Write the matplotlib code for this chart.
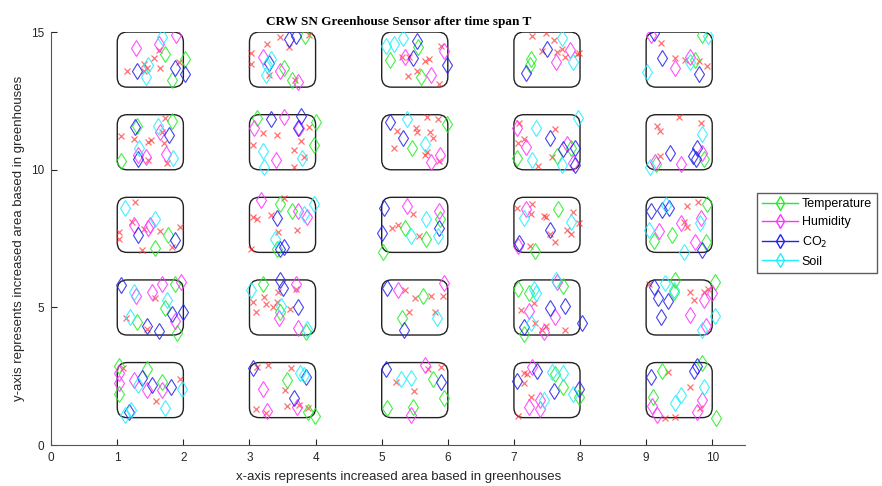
import matplotlib.pyplot as plt
from matplotlib.patches import FancyBboxPatch
from matplotlib.lines import Line2D

plt.rcParams['font.family'] = ['Liberation Sans', 'DejaVu Sans']

# greenhouse blocks: lower-left corners, each 1 wide and 2 tall
block_x = [1, 3, 5, 7, 9]
block_y = [1, 4, 7, 10, 13]

# sensor readings (positions inside the greenhouse area)
temp_x = [1.72, 2.02, 1.83, 1.83, 1.30, 1.05, 1.57, 1.77, 1.87, 1.72, 1.30, 1.90, 1.02, 1.45, 1.02, 1.68,
          3.84, 3.52, 3.65, 3.12, 4.00, 3.98, 3.46, 3.65, 3.42, 3.21, 3.46, 3.85, 3.57, 3.89, 3.99,
          5.55, 5.13, 5.60, 5.99, 5.46, 5.02, 5.36, 5.67, 5.88, 5.63, 5.30, 5.48, 5.08, 5.94, 5.77,
          7.26, 7.25, 7.05, 7.65, 7.87, 7.67, 7.32, 7.74, 7.06, 7.23, 7.16, 7.62, 7.75, 7.99,
          9.84, 9.74, 9.15, 9.88, 9.92, 9.12, 9.39, 9.90, 9.43, 10.04, 9.42, 9.24, 9.84, 9.10, 10.05]
temp_y = [14.19, 14.02, 13.27, 11.77, 11.60, 10.32, 7.16, 7.62, 5.84, 4.97, 4.46, 4.06, 2.89, 2.75, 1.86, 2.31,
          14.86, 13.69, 13.27, 11.89, 11.75, 10.90, 8.77, 8.49, 7.13, 5.84, 4.85, 4.12, 2.35, 1.19, 1.07,
          14.45, 13.99, 13.36, 11.65, 10.80, 7.00, 7.90, 7.50, 8.20, 5.40, 4.60, 1.40, 1.35, 1.70, 2.40,
          14.02, 13.81, 10.41, 10.51, 10.80, 8.59, 7.05, 5.78, 5.66, 5.54, 4.04, 2.59, 2.13, 1.74,
          14.90, 14.00, 10.20, 10.40, 8.77, 7.41, 7.62, 7.38, 6.00, 5.94, 5.58, 2.71, 2.98, 1.76, 0.99]

hum_x = [1.89, 1.28, 1.63, 1.65, 1.43, 1.73, 1.32, 1.26, 1.46, 1.50, 1.68, 1.53, 1.28, 1.97, 1.88,
         1.02, 1.02, 1.25, 1.45, 1.67,
         3.20, 3.46, 3.73, 3.52, 3.07, 3.40, 3.75, 3.17, 3.74, 3.87, 3.71, 3.45, 3.74, 3.21, 3.27, 3.72,
         5.36, 5.94, 5.75, 5.88, 5.75, 5.39, 5.86, 5.94, 5.24, 5.65, 5.45,
         7.85, 7.64, 7.05, 7.18, 7.80, 7.89, 7.18, 7.06, 7.65, 7.23, 7.62, 7.46, 7.27, 7.23, 7.40, 7.40,
         9.07, 9.67, 9.44, 9.14, 9.52, 9.85, 9.83, 9.19, 9.52, 9.74, 10.00, 9.87, 9.66, 9.91,
         9.84, 9.09, 9.17, 9.77]
hum_y = [14.90, 14.43, 14.55, 11.38, 10.47, 10.56, 10.53, 8.00, 7.88, 7.98, 5.87, 5.55, 5.43, 5.94, 4.51,
         2.62, 2.26, 2.35, 2.02, 2.02,
         14.11, 13.60, 13.19, 11.93, 11.53, 10.35, 11.50, 8.89, 8.49, 8.28, 5.84, 4.63, 4.24, 2.04, 1.25, 1.38,
         14.11, 14.31, 13.45, 10.53, 10.27, 8.70, 8.50, 5.90, 5.65, 2.90, 1.10,
         14.35, 13.90, 11.53, 10.84, 10.92, 10.23, 8.59, 7.22, 5.94, 4.88, 4.67, 4.12, 2.83, 1.38, 1.64, 1.32,
         14.90, 14.10, 13.70, 10.30, 10.20, 10.60, 8.26, 7.78, 8.07, 7.38, 5.52, 5.27, 4.73, 4.33,
         1.64, 1.44, 1.11, 1.19]

co2_x = [1.30, 1.88, 2.02, 1.27, 1.78, 1.31, 1.32, 1.88, 1.05, 1.83, 2.00, 1.45, 1.63,
         1.37, 1.52, 1.82, 1.17,
         3.60, 3.70, 3.30, 3.33, 3.78, 3.74, 3.41, 3.52, 3.46, 3.46, 3.50, 3.73, 3.06, 3.85, 3.67,
         5.54, 5.48, 5.99, 5.12, 5.32, 5.04, 5.00, 5.86, 5.08, 5.33, 5.07, 5.90,
         7.50, 7.18, 7.55, 7.74, 7.92, 7.92, 7.55, 7.08, 7.55, 7.77, 8.03, 7.16, 7.35, 7.05, 7.60, 7.99,
         9.12, 9.24, 9.80, 9.36, 9.71, 9.75, 9.77, 9.08, 9.24, 9.35, 9.85, 9.12, 9.18, 9.33, 9.23,
         9.08, 9.72, 9.77]
co2_y = [13.57, 13.69, 13.48, 11.56, 11.28, 10.39, 7.64, 7.44, 5.82, 4.75, 4.82, 4.34, 4.16,
         2.43, 2.19, 2.10, 1.19,
         14.74, 14.86, 13.87, 11.84, 11.96, 11.53, 8.25, 7.19, 7.13, 6.00, 5.72, 5.00, 2.79, 2.47, 1.70,
         14.67, 14.07, 13.79, 11.72, 11.16, 8.60, 7.70, 7.90, 5.70, 4.20, 2.75, 2.30,
         14.40, 13.51, 11.14, 10.75, 10.80, 10.19, 7.82, 7.34, 4.97, 5.05, 4.42, 4.28, 2.68, 2.32, 1.96, 2.04,
         14.97, 14.06, 13.48, 10.60, 10.50, 10.40, 10.80, 8.50, 8.55, 8.62, 7.07, 5.73, 5.33, 5.25, 4.67,
         2.47, 2.71, 2.89]

soil_x = [1.68, 1.47, 1.43, 1.62, 1.33, 1.85, 1.12, 1.57, 1.25, 1.75, 1.20,
          1.32, 1.98, 1.72, 1.12, 1.21,
          3.32, 3.26, 3.25, 3.21, 3.22, 3.79, 3.97, 3.82, 3.38, 3.03, 3.47, 3.87, 3.77, 3.82,
          5.06, 5.18, 5.32, 5.38, 5.65, 5.67, 5.44, 5.85, 5.83, 5.29, 5.45,
          7.72, 7.89, 7.97, 7.33, 7.28, 7.72, 7.15, 7.87, 7.63, 7.31, 7.33, 7.26, 7.57, 7.74, 7.45, 7.90,
          9.02, 9.94, 9.67, 9.06, 9.85, 9.30, 9.05, 9.81, 9.57, 9.29, 9.42, 10.04, 9.85,
          9.87, 9.52, 9.43]
soil_y = [14.82, 13.81, 13.36, 11.60, 10.78, 10.44, 8.61, 8.20, 5.55, 5.27, 4.67,
          2.19, 2.04, 1.34, 1.10, 1.29,
          14.02, 13.79, 13.43, 10.68, 10.11, 10.41, 8.77, 8.41, 7.50, 5.64, 5.07, 4.22, 2.62, 2.53,
          14.50, 14.55, 14.79, 11.84, 10.92, 8.20, 7.60, 7.60, 4.60, 2.40, 2.45,
          14.79, 13.93, 11.89, 11.53, 10.35, 10.19, 8.26, 8.10, 6.00, 5.66, 5.54, 4.42, 2.65, 2.61, 1.64, 1.86,
          13.55, 14.85, 13.90, 10.10, 11.30, 8.71, 7.80, 8.07, 7.01, 5.88, 5.64, 4.69, 4.18,
          2.13, 1.84, 1.52]

# plain sensor nodes
node_x = [1.15, 1.40, 1.55, 1.65, 1.45, 1.63, 1.93, 1.41,
          1.72, 1.06, 1.26, 1.46, 1.51, 1.67, 1.70, 1.75, 1.47,
          1.27, 1.22, 1.02, 1.02, 1.65, 1.95, 1.38, 1.83, 1.41,
          1.57, 1.13, 1.45, 1.95, 1.58, 1.08,
          3.46, 3.27, 3.02, 3.02, 3.60, 3.90, 3.30, 3.69,
          3.21, 3.42, 3.90, 3.78, 3.06, 3.67, 3.82, 3.68,
          3.52, 3.05, 3.12, 3.32, 3.43, 3.72, 3.02,
          3.22, 3.43, 3.05, 3.25, 3.35, 3.42, 3.62, 3.10, 3.70,
          3.12, 3.28, 3.63, 3.54, 3.57, 3.75, 3.10, 3.25, 3.88,
          5.30, 5.42, 5.65, 5.72, 5.90, 5.40, 5.54, 5.87,
          5.23, 5.52, 5.53, 5.69, 5.85, 5.73, 5.77, 5.18, 5.65, 5.69, 5.87,
          5.24, 5.16, 5.48, 5.57,
          5.36, 5.51, 5.75, 5.92, 5.41, 5.80,
          5.21, 5.49, 5.70, 5.90,
          7.27, 7.48, 7.60, 7.42, 7.65, 7.73, 7.77, 7.95, 7.99,
          7.08, 7.62, 7.15, 7.06, 7.57, 7.36,
          7.05, 7.28, 7.26, 7.46, 7.48, 7.90, 7.98, 7.80, 7.87, 7.54, 7.62, 7.25,
          7.30, 7.11, 7.32, 7.48, 7.42, 7.78,
          7.15, 7.20, 7.15, 7.26, 7.06,
          9.44, 9.59, 9.80, 9.92, 9.23,
          9.17, 9.21, 9.49, 9.83, 9.21,
          9.62, 9.79, 9.57, 9.62,
          9.04, 9.67, 9.87, 9.72, 9.94,
          9.33, 9.67, 9.82, 9.29, 9.43]
node_y = [13.57, 13.83, 14.05, 13.71, 13.69, 14.35, 13.93, 13.57,
          11.87, 11.24, 11.12, 11.02, 11.08, 11.38, 10.96, 10.23, 10.35,
          8.83, 8.10, 7.74, 7.50, 7.76, 7.92, 7.07, 7.19, 7.86,
          5.33, 4.63, 4.22, 2.40, 1.62, 2.80,
          14.82, 14.58, 14.23, 13.83, 14.46, 14.90, 13.45, 13.27,
          11.32, 11.26, 11.56, 11.04, 10.90, 10.72, 10.47, 10.11,
          8.98, 8.28, 8.22, 8.37, 7.74, 7.80, 7.11,
          5.39, 5.55, 5.21, 5.12, 5.00, 5.19, 4.95, 4.85, 5.67,
          2.83, 2.91, 2.79, 2.02, 1.41, 1.46, 1.32, 1.17, 1.34,
          14.11, 14.11, 13.95, 14.02, 14.50, 13.39, 13.57, 13.12,
          11.41, 11.53, 11.38, 11.93, 11.84, 11.36, 11.14, 10.78, 10.53, 10.65, 10.32,
          8.00, 7.90, 8.40, 7.60,
          5.65, 5.33, 5.40, 5.40, 4.85, 4.85,
          2.30, 1.95, 2.75, 2.85,
          14.86, 14.98, 14.70, 14.31, 14.29, 14.38, 14.11, 14.19, 14.23,
          11.70, 11.48, 11.12, 10.96, 10.47, 10.15,
          8.62, 8.77, 8.41, 8.31, 8.28, 8.47, 8.07, 7.80, 7.65, 7.68, 7.38, 7.22,
          5.18, 4.91, 4.42, 4.33, 4.18, 4.18,
          2.61, 2.59, 2.25, 1.74, 1.07,
          14.06, 13.98, 13.95, 13.78, 14.60,
          11.60, 11.40, 11.90, 11.70, 10.50,
          8.67, 8.83, 8.10, 7.92,
          5.85, 5.58, 5.58, 5.27, 5.66,
          2.65, 2.13, 1.35, 0.99, 1.04]

fig = plt.figure(figsize=(8.82, 4.86), dpi=100)
ax = fig.add_axes([0.058, 0.084, 0.787, 0.85])

# rounded greenhouse outlines
for bx in block_x:
    for by in block_y:
        ax.add_patch(FancyBboxPatch((bx, by), 1, 2,
                                    boxstyle='round,pad=0,rounding_size=0.15',
                                    mutation_aspect=2.4, fill=False,
                                    edgecolor='#222222', linewidth=1.0))

dmd = dict(linestyle='none', marker='d', mfc='none', markersize=8, mew=0.8, alpha=0.85)
ax.plot(node_x, node_y, 'x', color='#ff3333', alpha=0.7, markersize=5, mew=0.9)
ax.plot(temp_x, temp_y, mec='#22ee22', **dmd)
ax.plot(hum_x, hum_y, mec='#ff33ff', **dmd)
ax.plot(co2_x, co2_y, mec='#2222ee', **dmd)
ax.plot(soil_x, soil_y, mec='#22eeff', **dmd)

ax.set_xlim(0, 10.5)
ax.set_ylim(0, 15)
ax.set_xticks(range(0, 11))
ax.set_yticks([0, 5, 10, 15])
ax.tick_params(direction='in', length=4, labelsize=8.5, colors='#262626', pad=5)
for side in ['top', 'right']:
    ax.spines[side].set_visible(False)
for side in ['left', 'bottom']:
    ax.spines[side].set_color('#555555')

ax.set_xlabel('x-axis represents increased area based in greenhouses', fontsize=9.5, color='#262626', labelpad=5)
ax.set_ylabel('y-axis represents increased area based in greenhouses', fontsize=9.5, color='#262626', labelpad=4)
ax.set_title('CRW SN Greenhouse Sensor after time span T', fontsize=9.5, fontweight='bold',
             family=['Liberation Serif', 'DejaVu Serif'], pad=5)

handles = [Line2D([], [], color=c, marker='d', mfc='none', markersize=7, lw=1)
           for c in ['#22ee22', '#ff33ff', '#2222ee', '#22eeff']]
fig.legend(handles, ['Temperature', 'Humidity', 'CO$_2$', 'Soil'],
           loc='upper left', bbox_to_anchor=(0.858, 0.603), fontsize=9,
           frameon=True, fancybox=False, edgecolor='#333333', handlelength=2.9,
           borderpad=0.4, labelspacing=0.5, handletextpad=0.3, borderaxespad=0)

fig.savefig('out.png', dpi=100)
